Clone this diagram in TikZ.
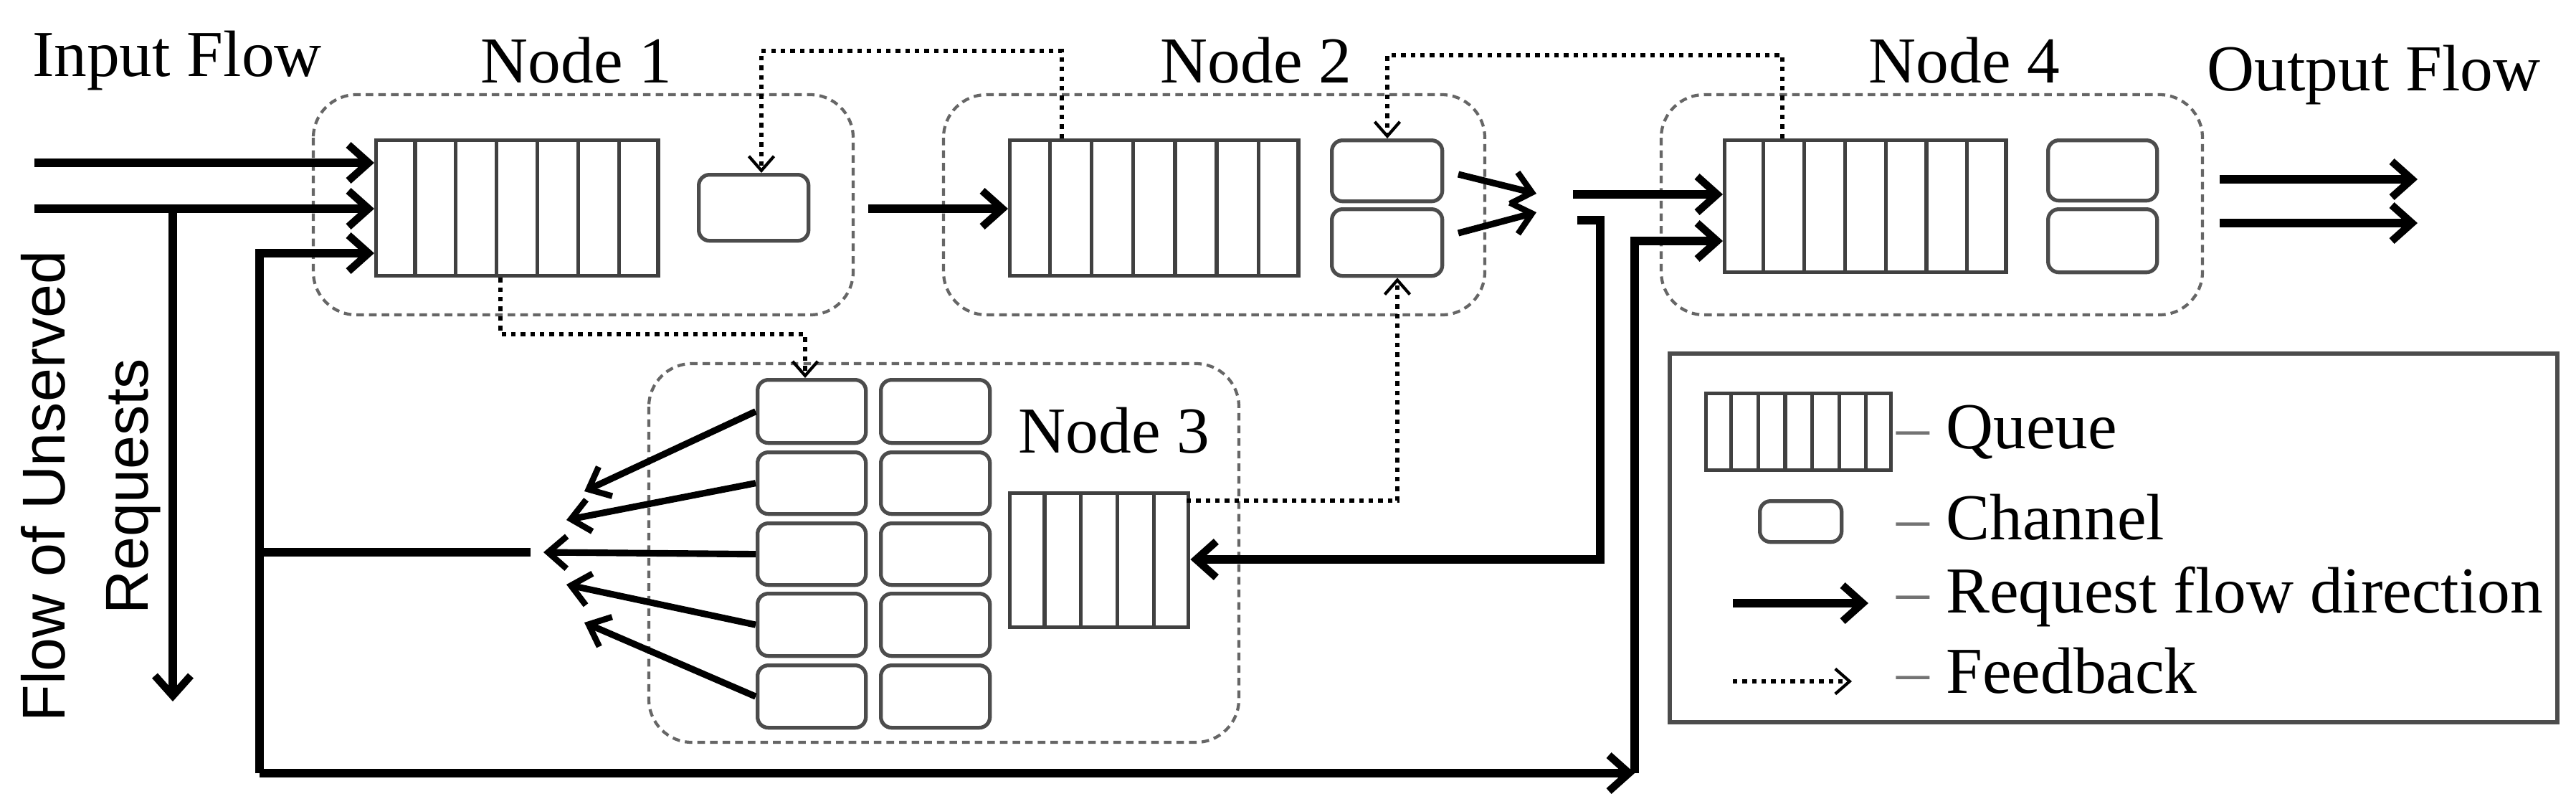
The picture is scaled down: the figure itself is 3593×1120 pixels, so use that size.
\documentclass[tikz,border=0pt]{standalone}
\usepackage{fontspec}
\setmainfont{Liberation Serif}
\newfontfamily\sansf{Liberation Sans}
\usetikzlibrary{arrows.meta,calc}
\newcommand\qcells[2]{\foreach \i in {1,...,#2}{\draw[black!75,line width=1.5pt] ($(#1.north west)!\i/(#2+1)!(#1.north east)$) -- ($(#1.south west)!\i/(#2+1)!(#1.south east)$);}}
\begin{document}
\begin{tikzpicture}[x=0.01cm,y=-0.01cm,
  box/.style={draw=black!60,densely dashed,line width=1.2pt,rounded corners=0.6cm},
  q/.style={draw=black!75,line width=1.5pt,inner sep=0,anchor=north west},
  ch/.style={draw=black!70,line width=1.5pt,rounded corners=0.15cm,inner sep=0,anchor=north west},
  flow/.style={line width=3.2pt,-{Straight Barb[length=0.28cm,width=0.5cm,line width=3pt]}},
  thin flow/.style={line width=2.6pt,-{Straight Barb[length=0.26cm,width=0.45cm,line width=2.4pt]}},
  thk/.style={line width=3.2pt},
  fb/.style={dotted,line width=1.8pt,-{Straight Barb[length=0.2cm,width=0.35cm,line width=1.2pt,line cap=butt]}},
  fbl/.style={dotted,line width=1.8pt},
  lbl/.style={font=\fontsize{26}{30}\selectfont,inner sep=0}]
\useasboundingbox (0,0) rectangle (3593,1120);
\fill[white] (0,0) rectangle (3593,1120);
% node boxes
\draw[box] (437,132) rectangle (1190,439);
\draw[box] (1316,132) rectangle (2071,439);
\draw[box] (2317,132) rectangle (3072,439);
\draw[box] (905,507) rectangle (1728,1035);
% labels
\node[lbl] (t1) at (804,84) {Node 1};
\node[lbl] (t2) at (1752,84) {Node 2};
\node[lbl] (t4) at (2740,84) {Node 4};
\node[lbl] (t3) at (1554,600) {Node 3};
\node[lbl] (tin) at (247,84) {Input Flow};
\node[lbl] (tout) at (3311,104) {Output Flow};
\node[font=\sansf\fontsize{24}{33}\selectfont,rotate=90,align=center,inner sep=0] (tunr) at (127,678) {Flow of Unserved\\Requests};
% queues
\node[q,minimum width=3.93cm,minimum height=1.89cm] (q1) at (522,193) {};
\node[q,minimum width=4.02cm,minimum height=1.89cm] (q2) at (1406,193) {};
\node[q,minimum width=3.92cm,minimum height=1.84cm] (q4) at (2403,193) {};
\node[q,minimum width=2.49cm,minimum height=1.87cm] (q3) at (1406,685) {};
\node[q,minimum width=2.58cm,minimum height=1.07cm] (ql) at (2377,546) {};
\qcells{q1}{6}\qcells{q2}{6}\qcells{q4}{6}\qcells{q3}{4}\qcells{ql}{6}
% channels
\node[ch,minimum width=1.53cm,minimum height=0.92cm] (c1) at (972,241) {};
\node[ch,minimum width=1.54cm,minimum height=0.85cm] (c2a) at (1855,193) {};
\node[ch,minimum width=1.54cm,minimum height=0.93cm] (c2b) at (1855,289) {};
\node[ch,minimum width=1.52cm,minimum height=0.84cm] (c4a) at (2854,193) {};
\node[ch,minimum width=1.52cm,minimum height=0.88cm] (c4b) at (2854,289) {};
\foreach \y/\h [count=\k] in {527/88,628/86,727/86,825/87,925/87}{
  \node[ch,minimum width=1.51cm,minimum height=\h*0.01cm] (n3a\k) at (1054,\y) {};
  \node[ch,minimum width=1.52cm,minimum height=\h*0.01cm] (n3b\k) at (1226,\y) {};
}
\node[ch,minimum width=1.14cm,minimum height=0.57cm] (cl) at (2452,696) {};
% input flow arrows
\coordinate (i1) at (48,227); \coordinate (i2) at (48,291);
\draw[flow] (i1) -- (i1 -| q1.west);
\draw[flow] (i2) -- (i2 -| q1.west);
\coordinate (u0) at (241,293); \coordinate (u1) at (241,978);
\draw[flow] (u0) -- (u1);
% loop from bottom
\coordinate (l0) at (362,1078); \coordinate (l1) at (362,353);
\draw[flow] (l0) -- (l1) -- (l1 -| q1.west);
\coordinate (b1) at (2280,1078);
\draw[flow] (l0) -- (b1);
\coordinate (b2) at (2280,336);
\draw[flow] (b1) -- (b2) -- (b2 -| q4.west);
% node1 -> node2
\coordinate (a12) at (1211,291);
\draw[flow] (a12) -- (a12 -| q2.west);
% node2 out small arrows
\coordinate (s1) at (2034,243); \coordinate (s1e) at (2143,270);
\coordinate (s2) at (2034,325); \coordinate (s2e) at (2143,296);
\draw[thin flow] (s1) -- (s1e);
\draw[thin flow] (s2) -- (s2e);
% into node 4
\coordinate (n4i) at (2194,271);
\draw[flow] (n4i) -- (n4i -| q4.west);
% stub down to node3 queue
\coordinate (d0) at (2200,307); \coordinate (d1) at (2232,307); \coordinate (d2) at (2232,780);
\draw[flow] (d0) -- (d1) -- (d2) -- (d2 -| q3.east);
% output arrows
\coordinate (o1) at (3096,250); \coordinate (o1e) at (3372,250);
\coordinate (o2) at (3096,311); \coordinate (o2e) at (3372,311);
\draw[flow] (o1) -- (o1e);
\draw[flow] (o2) -- (o2e);
% node3 outputs
\coordinate (m0) at (740,770);
\draw[thk] (l0 |- m0) -- (m0);
\draw[thin flow] (n3a1.west) -- (815,685);
\draw[thin flow] (n3a2.west) -- (790,725);
\draw[thin flow] (n3a3.west) -- (758,770);
\draw[thin flow] (n3a4.west) -- (790,815);
\draw[thin flow] (n3a5.west) -- (815,868);
% feedback
\coordinate (f1a) at (1481,71); \coordinate (f1b) at (1062,71);
\draw[fb] (f1a |- q2.north) -- (f1a) -- (f1b) -- (f1b |- c1.north);
\coordinate (f2a) at (2486,77); \coordinate (f2b) at (1935,77);
\draw[fb] (f2a |- q4.north) -- (f2a) -- (f2b) -- (f2b |- c2a.north);
\coordinate (f3a) at (698,466); \coordinate (f3b) at (1123,466);
\draw[fb] (f3a |- q1.south) -- (f3a) -- (f3b) -- (f3b |- n3a1.north);
\coordinate (f4a) at (1655,698); \coordinate (f4b) at (1949,698);
\draw[fb] (f4a) -- (f4b) -- (f4b |- c2b.south);
% legend
\draw[black!70,line width=1.5pt] (2329,493) rectangle (3567,1007);
\coordinate (lr0) at (2417,841); \coordinate (lr1) at (2606,841);
\draw[flow] (lr0) -- (lr1);
\coordinate (lf0) at (2417,950); \coordinate (lf1) at (2583,950);
\draw[fb] (lf0) -- (lf1);
\node[lbl,anchor=west] (lq) at (2645,603) {{\color{black!55}–} Queue};
\node[lbl,anchor=west] (lc) at (2645,721) {{\color{black!55}–} Channel};
\node[lbl,anchor=west] (lrq) at (2645,832) {{\color{black!55}–} Request flow direction};
\node[lbl,anchor=west] (lfb) at (2645,935) {{\color{black!55}–} Feedback};
\end{tikzpicture}
\end{document}
